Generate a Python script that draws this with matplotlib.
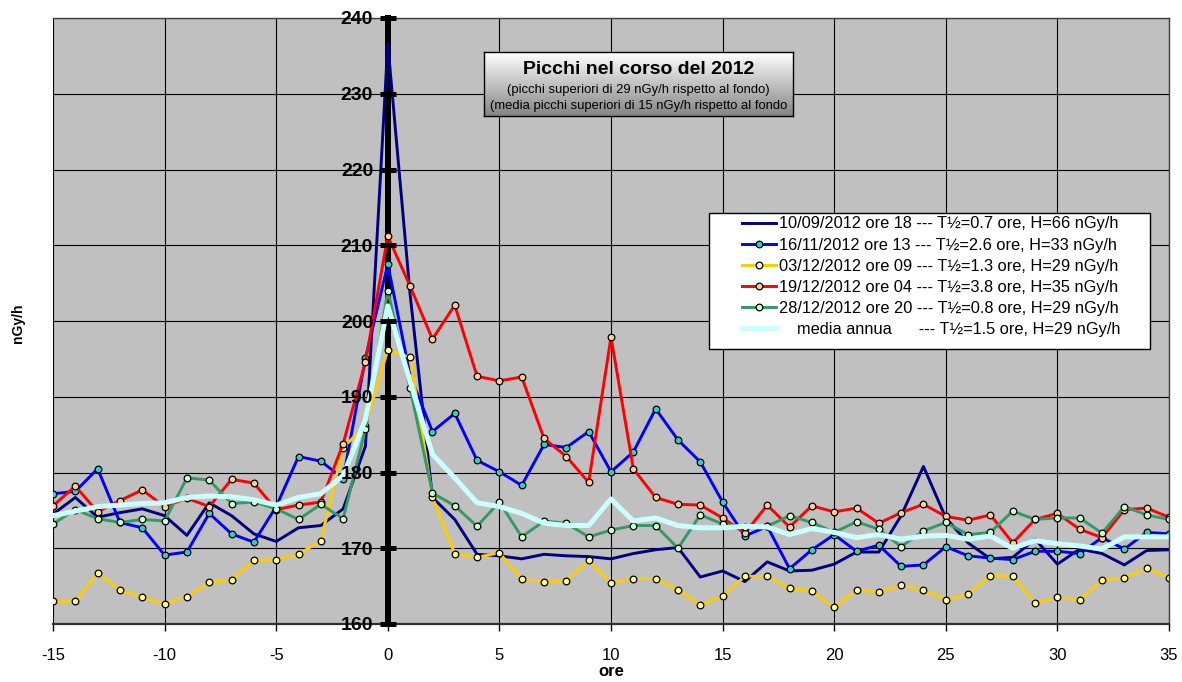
import numpy as np
import matplotlib
matplotlib.use("Agg")
import matplotlib.pyplot as plt
from matplotlib.patches import Rectangle

plt.rcParams['font.family'] = ['Liberation Sans', 'DejaVu Sans']
plt.rcParams['axes.unicode_minus'] = False

## hours around the peak
ore = list(range(-15, 36))

## series (nGy/h)
p_10_09 = [174.5, 176.7, 174.1, 174.7, 175.2, 174.3, 171.7, 176.0, 174.3, 171.9,
           170.9, 172.7, 173.0, 175.2, 183.5, 236.6, 203.5, 176.7, 173.8, 169.2,
           169.0, 168.6, 169.2, 169.0, 168.9, 168.6, 169.3, 169.8, 170.1, 166.2,
           167.0, 165.6, 168.2, 167.0, 167.1, 167.9, 169.5, 169.5, 174.3, 180.8,
           174.0, 170.7, 168.6, 168.8, 171.2, 167.9, 169.9, 169.3, 167.8, 169.7,
           169.8]
p_16_11 = [177.2, 177.5, 180.5, 173.4, 172.7, 169.1, 169.5, 174.6, 171.9, 170.8,
           175.5, 182.1, 181.5, 179.2, 195.1, 207.5, 192.8, 185.4, 187.8, 181.6,
           180.1, 178.3, 183.7, 183.3, 185.4, 180.1, 182.7, 188.4, 184.3, 181.4,
           176.1, 171.6, 172.9, 167.3, 169.8, 171.8, 169.6, 170.4, 167.6, 167.8,
           170.2, 169.0, 168.7, 168.5, 169.6, 169.6, 169.3, 171.4, 169.9, 172.1,
           171.9]
p_03_12 = [163.0, 163.0, 166.7, 164.5, 163.5, 162.7, 163.6, 165.5, 165.8, 168.4,
           168.5, 169.2, 171.0, 183.3, 186.2, 196.2, 195.2, 176.7, 169.3, 168.8,
           169.4, 165.9, 165.6, 165.7, 168.4, 165.4, 166.0, 166.0, 164.5, 162.5,
           163.7, 166.3, 166.3, 164.7, 164.4, 162.2, 164.5, 164.2, 165.1, 164.5,
           163.2, 163.9, 166.4, 166.3, 162.8, 163.5, 163.2, 165.8, 166.1, 167.4,
           166.1]
p_19_12 = [175.6, 178.2, 174.8, 176.3, 177.7, 175.5, 176.6, 175.5, 179.1, 178.6,
           175.1, 175.7, 176.1, 183.8, 194.6, 211.2, 204.6, 197.6, 202.1, 192.7,
           192.1, 192.6, 184.5, 182.1, 178.7, 197.9, 180.5, 176.7, 175.8, 175.7,
           174.0, 172.0, 175.7, 172.8, 175.6, 174.8, 175.3, 173.3, 174.7, 175.8,
           174.2, 173.7, 174.4, 170.7, 173.8, 174.6, 172.5, 171.4, 175.1, 175.3,
           174.1]
p_28_12 = [173.2, 175.1, 173.9, 173.4, 173.8, 173.6, 179.3, 179.0, 175.9, 176.1,
           175.2, 173.8, 175.8, 173.9, 185.8, 204.0, 191.1, 177.3, 175.6, 172.9,
           176.1, 171.5, 173.6, 173.3, 171.5, 172.4, 173.0, 173.0, 170.0, 174.4,
           173.2, 172.8, 172.9, 174.3, 173.4, 172.1, 173.5, 172.5, 170.2, 172.3,
           173.4, 171.8, 172.1, 174.9, 173.8, 174.0, 174.0, 172.0, 175.5, 174.4,
           173.8]
media = [174.3, 174.9, 175.5, 175.7, 175.9, 176.0, 176.7, 176.9, 176.8, 176.4,
         175.7, 176.7, 177.2, 179.6, 187.0, 202.0, 192.0, 182.4, 179.3, 176.0,
         175.5, 174.6, 173.3, 173.0, 173.0, 176.5, 173.6, 174.0, 173.0, 172.7,
         172.7, 172.9, 172.8, 171.8, 172.6, 172.1, 171.4, 171.8, 171.2, 171.6,
         171.7, 171.2, 171.6, 170.0, 171.0, 170.6, 170.3, 169.9, 171.5, 171.5,
         171.5]

etichette = [
    "10/09/2012 ore 18 --- T½=0.7 ore, H=66 nGy/h",
    "16/11/2012 ore 13 --- T½=2.6 ore, H=33 nGy/h",
    "03/12/2012 ore 09 --- T½=1.3 ore, H=29 nGy/h",
    "19/12/2012 ore 04 --- T½=3.8 ore, H=35 nGy/h",
    "28/12/2012 ore 20 --- T½=0.8 ore, H=29 nGy/h",
    "    media annua      --- T½=1.5 ore, H=29 nGy/h",
]

fig = plt.figure(figsize=(11.82, 6.82), dpi=100)
ax = fig.add_axes([53/1182, 58/682, 1116/1182, 606/682])
ax.set_facecolor('#C0C0C0')

## series: (values, line colour, marker face or None, line width)
serie = [
    (p_10_09, '#000080', None, 2.1),
    (p_16_11, '#0000FF', '#33CCCC', 2.1),
    (p_03_12, '#FFCC00', '#FFFF99', 2.1),
    (p_19_12, '#FF0000', '#FFCC99', 2.1),
    (p_28_12, '#339966', '#CCFFCC', 2.1),
    (media,   '#CCFFFF', None, 3.6),
]
handles = []
for (vals, col, face, lw), lab in zip(serie, etichette):
    if face is None:
        h, = ax.plot(ore, vals, color=col, lw=lw, zorder=2.2, label=lab)
    else:
        h, = ax.plot(ore, vals, color=col, lw=lw, marker='o', ms=4.8,
                     mfc=face, mec='black', mew=0.9, zorder=2.2, label=lab)
    handles.append(h)

ax.set_xlim(-15, 35)
ax.set_ylim(160, 240)
ax.set_xticks(range(-15, 36, 5))
ax.set_yticks(range(160, 241, 10))

# grid drawn by hand so it stays under the series while tick labels stay on top
for yv in ax.get_yticks():
    ax.axhline(yv, color='black', lw=0.8, zorder=1)
for xv in ax.get_xticks():
    ax.axvline(xv, color='black', lw=0.8, zorder=1)

## y axis crossing at 0, thick black like Excel
ax.spines['left'].set_position(('data', 0))
ax.spines['left'].set_linewidth(4.3)
ax.spines['left'].set_color('black')
ax.spines['left'].set_zorder(2.1)
for s in ['top', 'right']:
    ax.spines[s].set_color('#404040')
    ax.spines[s].set_linewidth(1.0)
ax.spines['bottom'].set_color('#303030')
ax.spines['bottom'].set_linewidth(1.6)
ax.yaxis.set_zorder(2.6)

ax.tick_params(axis='y', direction='inout', length=12, width=3.6, pad=4.5,
               labelsize=14)
for t in ax.get_yticklabels():
    t.set_fontweight('bold')
ax.tick_params(axis='x', direction='out', length=5, width=1, pad=12,
               labelsize=12)

fig.text(18/1182, (682-323)/682, "nGy/h", rotation=90, fontsize=10,
         fontweight='bold', ha='center', va='center')
fig.text(611/1182, 10/682, "ore", fontsize=12, fontweight='bold',
         ha='center', va='center')

## legend: white box placed like the original, entries inside
ax.add_patch(Rectangle((0.5878, 0.4538), 0.983 - 0.5878, 0.678 - 0.4538,
                       transform=ax.transAxes, facecolor='white',
                       edgecolor='black', lw=1.0, zorder=4))
leg = ax.legend(handles=handles, loc='upper left', bbox_to_anchor=(0.6174, 0.6725),
                fontsize=11.8, frameon=False, handlelength=2.05,
                handletextpad=0.18, labelspacing=0.37, borderpad=0,
                borderaxespad=0)
leg.set_zorder(5)

## title box with grey gradient
tb = fig.add_axes([484/1182, (682-116)/682, (793-484)/1182, 64/682])
grad = np.linspace(1.0, 0.52, 100).reshape(-1, 1)
tb.imshow(grad, cmap='gray', vmin=0, vmax=1, aspect='auto',
          extent=[0, 1, 0, 1])
tb.set_xlim(0, 1)
tb.set_ylim(0, 1)
tb.set_xticks([])
tb.set_yticks([])
for s in tb.spines.values():
    s.set_linewidth(1.0)
    s.set_color('black')
tb.text(0.5, 0.72, "Picchi nel corso del 2012", fontsize=14, fontweight='bold',
        ha='center', va='center')
tb.text(0.5, 0.41, "(picchi superiori di 29 nGy/h rispetto al fondo)",
        fontsize=9.4, ha='center', va='center')
tb.text(0.5, 0.16, "(media picchi superiori di 15 nGy/h rispetto al fondo",
        fontsize=9.4, ha='center', va='center')

fig.savefig("out.png", dpi=100)
